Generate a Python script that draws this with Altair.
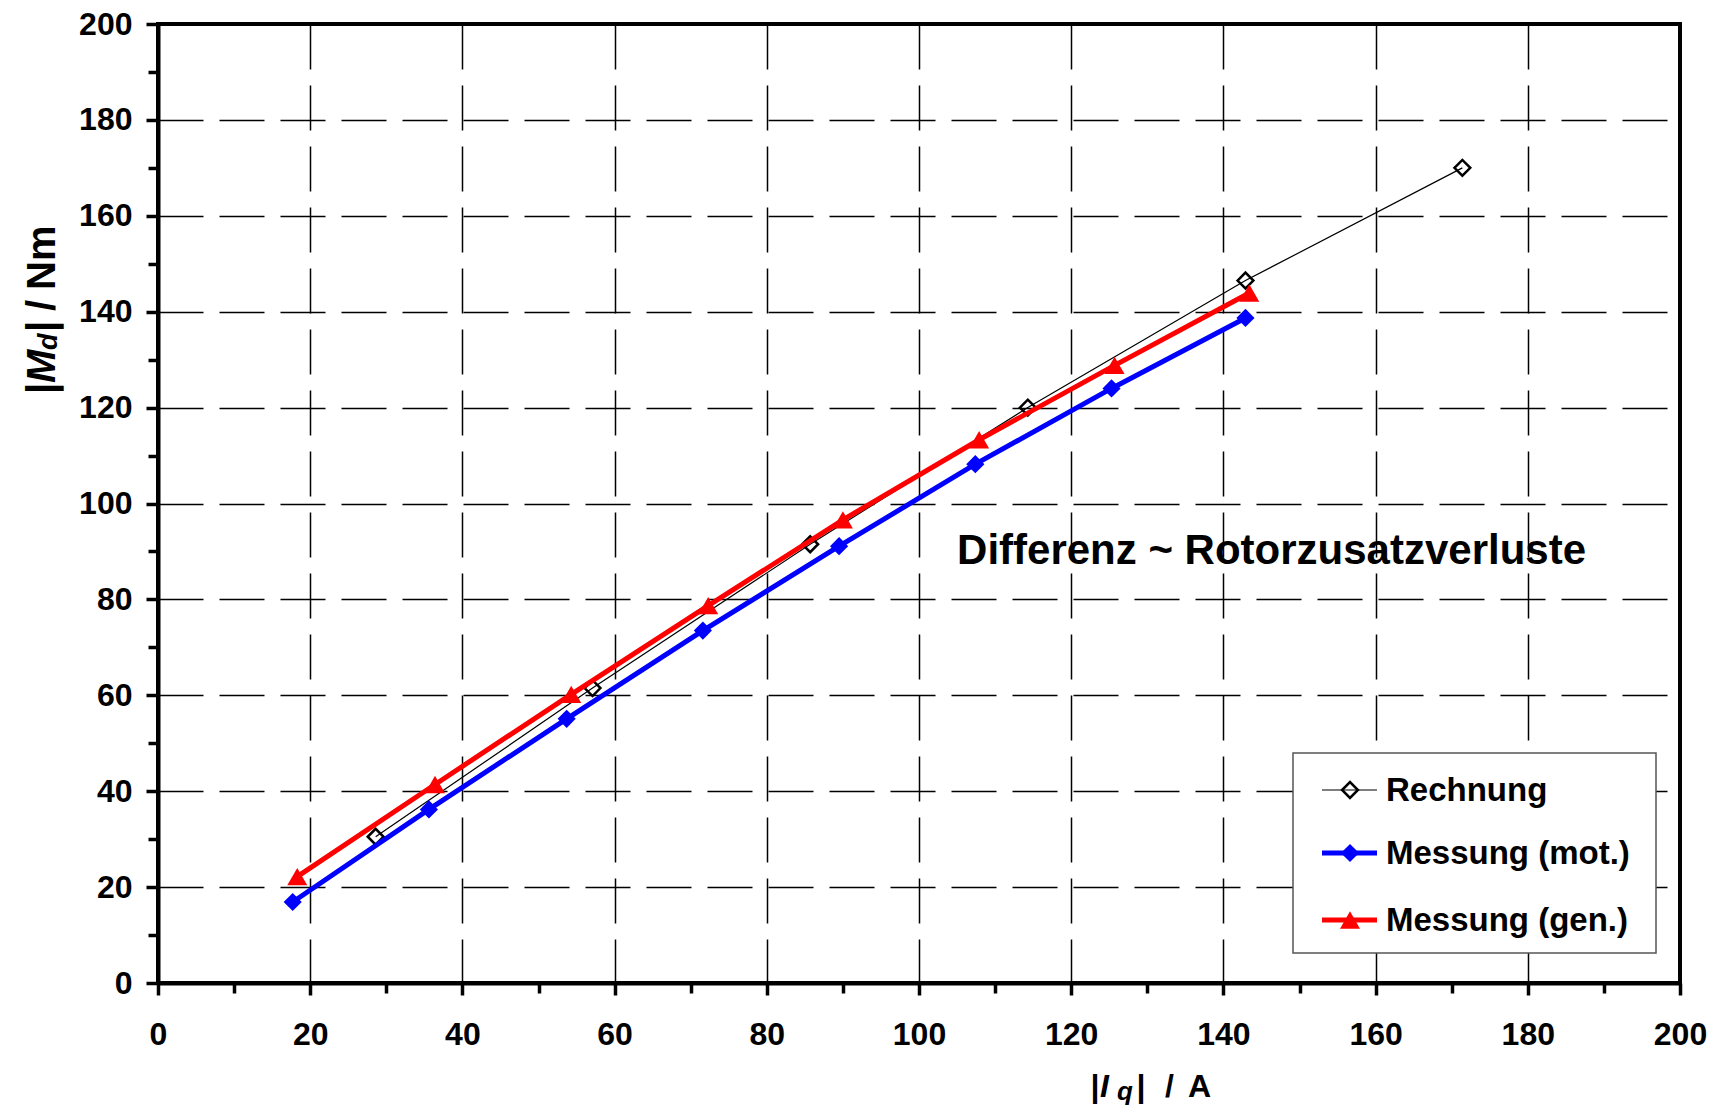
import altair as alt
import pandas as pd

# ---- data ----
x_ticks = list(range(0, 201, 10))
y_ticks = list(range(0, 201, 10))

rech_x = [28.6, 57.1, 85.7, 114.3, 142.9, 171.4]
rech_y = [30.5, 61.5, 91.5, 120.0, 146.5, 170.0]

mot_x = [17.7, 35.6, 53.7, 71.6, 89.5, 107.4, 125.3, 142.9]
mot_y = [16.9, 36.2, 55.1, 73.5, 91.1, 108.2, 124.0, 138.7]

gen_x = [18.3, 36.4, 54.3, 72.3, 90.0, 107.9, 125.7, 143.4]
gen_y = [22.2, 41.4, 60.2, 78.7, 96.6, 113.3, 128.8, 143.9]

series_names = ["Rechnung", "Messung (mot.)", "Messung (gen.)"]
series_colors = ["#000000", "#0000FF", "#FF0000"]

annot_text = ["Differenz ~ Rotorzusatzverluste"]
annot_x = [105.0]
annot_y = [90.0]

FONT = "Liberation Sans"
W, H = 1522, 959
TOP = 16

major = "datum.value % 20 === 0"

x_axis = alt.Axis(
    values=x_ticks, title=None, grid=True,
    labelExpr=f"{major} ? datum.label : ''",
    tickSize={"condition": {"test": major, "value": 12}, "value": 10},
    gridOpacity={"condition": {"test": major, "value": 1}, "value": 0},
    labelPadding=24, labelFlush=False, labelOverlap=False,
)
y_axis = alt.Axis(
    values=y_ticks, title=None, grid=True,
    labelExpr=f"{major} ? datum.label : ''",
    tickSize={"condition": {"test": major, "value": 12}, "value": 10},
    gridOpacity={"condition": {"test": major, "value": 1}, "value": 0},
    labelPadding=14, labelFlush=False, labelOverlap=False,
)

X = alt.X("x:Q", scale=alt.Scale(domain=[0, 200], nice=False, zero=False), axis=x_axis)
Y = alt.Y("y:Q", scale=alt.Scale(domain=[0, 200], nice=False, zero=False), axis=y_axis)

df_rech = pd.DataFrame({"x": rech_x, "y": rech_y})
df_mot = pd.DataFrame({"x": mot_x, "y": mot_y})
df_gen = pd.DataFrame({"x": gen_x, "y": gen_y})

sizes = [250, 330, 400]

layers = []
# Rechnung
layers.append(alt.Chart(df_rech).mark_line(color=series_colors[0], strokeWidth=1.2).encode(x=X, y=Y))
layers.append(alt.Chart(df_rech).mark_point(shape="diamond", filled=False, color=series_colors[0],
                                            strokeWidth=2.5, size=sizes[0], opacity=1).encode(x=X, y=Y))
# Messung (mot.)
layers.append(alt.Chart(df_mot).mark_line(color=series_colors[1], strokeWidth=5).encode(x=X, y=Y))
layers.append(alt.Chart(df_mot).mark_point(shape="diamond", filled=True, color=series_colors[1],
                                           size=sizes[1], opacity=1).encode(x=X, y=Y))
# Messung (gen.)
layers.append(alt.Chart(df_gen).mark_line(color=series_colors[2], strokeWidth=5).encode(x=X, y=Y))
layers.append(alt.Chart(df_gen).mark_point(shape="triangle-up", filled=True, color=series_colors[2],
                                           size=sizes[2], opacity=1).encode(x=X, y=Y))

# annotation
df_ann = pd.DataFrame({"x": annot_x, "y": annot_y, "t": annot_text})
layers.append(alt.Chart(df_ann).mark_text(align="left", baseline="middle", font=FONT, fontSize=42,
                                          fontWeight="bold", color="black")
              .encode(x=X, y=Y, text="t:N"))

# ---- legend (manual), pixel offsets relative to the plot area ----
dy = 22 - (8 + TOP)  # keep legend at the same page position as the reference
one = pd.DataFrame({"k": [0]})
layers.append(alt.Chart(one).mark_rect(fill="white", stroke="#555555", strokeWidth=1.5).encode(
    x=alt.value(1135), x2=alt.value(1498), y=alt.value(731 + dy), y2=alt.value(931 + dy)))
row_y = [768 + dy, 831 + dy, 898 + dy]
line_w = [1.2, 5, 5]
shapes = ["diamond", "diamond", "triangle-up"]
filled = [False, True, True]
for i, name in enumerate(series_names):
    layers.append(alt.Chart(one).mark_rule(color=series_colors[i], strokeWidth=line_w[i]).encode(
        x=alt.value(1164), x2=alt.value(1219), y=alt.value(row_y[i])))
    pt_kw = dict(shape=shapes[i], filled=filled[i], color=series_colors[i], size=sizes[i], opacity=1)
    if not filled[i]:
        pt_kw["strokeWidth"] = 2.5
    layers.append(alt.Chart(one).mark_point(**pt_kw).encode(x=alt.value(1192), y=alt.value(row_y[i])))
    layers.append(alt.Chart(pd.DataFrame({"t": [name]})).mark_text(
        align="left", baseline="middle", font=FONT, fontSize=33, fontWeight="bold", color="black"
    ).encode(x=alt.value(1228), y=alt.value(row_y[i] + 1), text="t:N"))

# ---- axis titles built from pieces (italic symbol + subscript) ----
def piece(txt, x, y, size, style="normal", angle=0):
    kw = dict(align="left", baseline="alphabetic", font=FONT, fontSize=size, fontWeight="bold",
              fontStyle=style, color="black")
    if angle:
        kw["angle"] = angle
    return alt.Chart(pd.DataFrame({"t": [txt]})).mark_text(**kw).encode(
        x=alt.value(x), y=alt.value(y), text="t:N")

# x title: |I_q| / A
xb = 1073
layers += [
    piece("|", 932, xb, 32, "italic"),
    piece("I", 942, xb, 32, "italic"),
    piece("q", 959, xb + 3, 26, "italic"),
    piece("|", 978, xb, 32, "italic"),
    piece("/", 1007, xb, 32),
    piece("A", 1030, xb, 32),
]
# y title: |M_d| / Nm (rotated)
yb = -103
layers += [
    piece("|", yb, 372 + dy, 40, angle=270),
    piece("M", yb, 361 + dy, 40, "italic", angle=270),
    piece("d", yb + 2, 328 + dy, 27, "italic", angle=270),
    piece("|", yb, 310 + dy, 40, angle=270),
    piece("/", yb, 289 + dy, 40, angle=270),
    piece("Nm", yb, 268 + dy, 40, angle=270),
]

chart = alt.layer(*layers).properties(
    width=W, height=H,
    autosize=alt.AutoSizeParams(type="none"),
    padding={"left": 150, "top": TOP, "right": 36, "bottom": 124},
    background="white",
).configure_view(
    stroke="black", strokeWidth=4
).configure_axis(
    domainColor="black", domainWidth=4,
    tickColor="black", tickWidth=3.5,
    labelFont=FONT, labelFontSize=32, labelFontWeight="bold", labelColor="black",
    gridColor="black", gridWidth=1.5, gridDash=[45, 16],
)

chart.save("out.html", embed_options={"renderer": "svg", "actions": False})
